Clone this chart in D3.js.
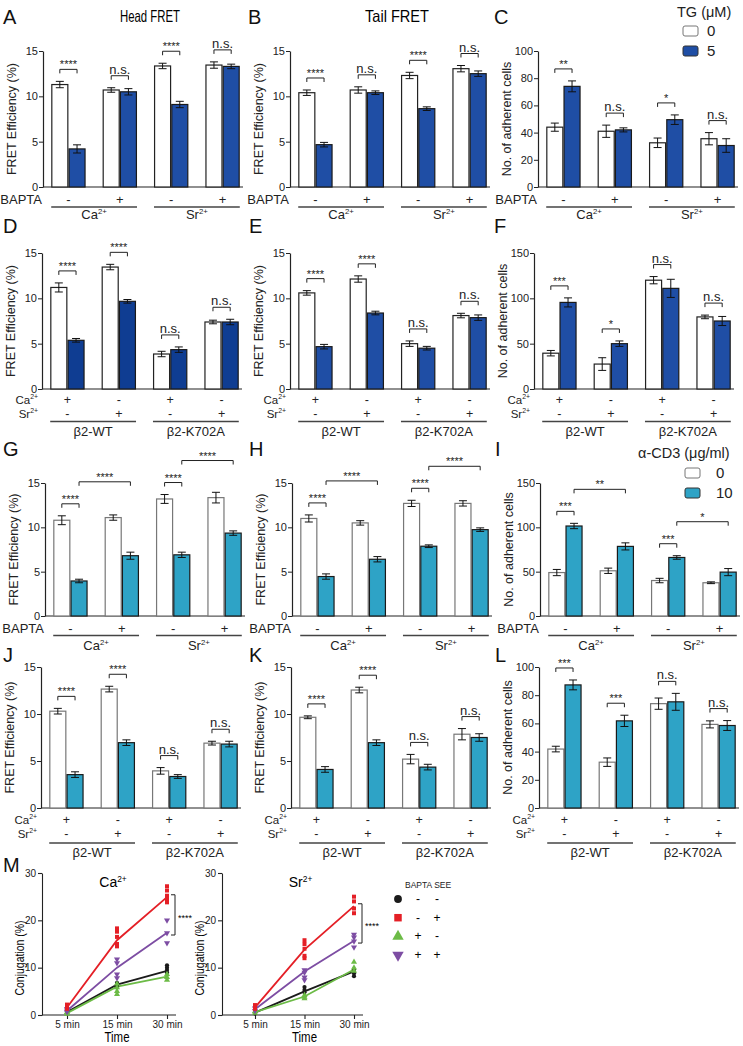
<!DOCTYPE html>
<html>
<head>
<meta charset="utf-8">
<script src="https://cdn.jsdelivr.net/npm/d3@7"></script>
<style>
  body { margin: 0; background: #fff; }
  svg { font-family: "Liberation Sans", Arial, Helvetica, sans-serif; }
</style>
</head>
<body>
<svg id="fig" width="743" height="1046"></svg>
<script>
const FONT = '"Liberation Sans", Arial, Helvetica, sans-serif';
const INK = "#222";

// shared categories / tick labels
const GROUPS = [0, 1, 2, 3];
const baptaSigns = ["-", "+", "-", "+"];
const caSigns = ["+", "-", "+", "-"];
const srSigns = ["-", "+", "-", "+"];
const ionGroups = ["Ca", "Sr"];
const mutGroups = ["\u03b22-WT", "\u03b22-K702A"];
const fretTicks = [0, 5, 10, 15];
const cellTicks100 = [0, 20, 40, 60, 80, 100];
const cellTicks150 = [0, 50, 100, 150];

// A - head FRET, TG
const aCtrl = [11.3, 10.7, 13.35, 13.45], aCtrlErr = [0.35, 0.25, 0.3, 0.35];
const aTG = [4.2, 10.5, 9.1, 13.3], aTGErr = [0.45, 0.35, 0.35, 0.25];
const aSig = ["****", "n.s.", "****", "n.s."];
// B - tail FRET, TG
const bCtrl = [10.4, 10.7, 12.3, 13.05], bCtrlErr = [0.3, 0.35, 0.35, 0.35];
const bTG = [4.67, 10.4, 8.64, 12.5], bTGErr = [0.25, 0.2, 0.2, 0.3];
const bSig = ["****", "n.s.", "****", "n.s."];
// C - adhesion, TG
const cCtrl = [44, 41, 32.5, 35.5], cCtrlErr = [3, 4.5, 3.5, 4.5];
const cTG = [74, 42, 49.5, 30.5], cTGErr = [4, 1.5, 3.5, 5];
const cSig = ["**", "n.s.", "*", "n.s."];
// D - head FRET, mutants, TG
const dCtrl = [11.2, 13.45, 3.86, 7.39], dCtrlErr = [0.5, 0.3, 0.3, 0.2];
const dTG = [5.37, 9.67, 4.34, 7.39], dTGErr = [0.2, 0.2, 0.3, 0.3];
const dSig = ["****", "****", "n.s.", "n.s."];
// E - tail FRET, mutants, TG
const eCtrl = [10.6, 12.13, 5.0, 8.1], eCtrlErr = [0.25, 0.35, 0.3, 0.25];
const eTG = [4.67, 8.38, 4.5, 7.87], eTGErr = [0.25, 0.2, 0.2, 0.3];
const eSig = ["****", "****", "n.s.", "n.s."];
// F - adhesion, mutants, TG
const fCtrl = [39.5, 27.5, 120, 79.5], fCtrlErr = [3, 7, 4, 2];
const fTG = [95.5, 50, 111, 75], fTGErr = [5, 3, 10, 5];
const fSig = ["***", "*", "n.s.", "n.s."];
// G - head FRET, aCD3
const gCtrl = [10.8, 11.1, 13.2, 13.35], gCtrlErr = [0.5, 0.3, 0.5, 0.6];
const gCD3 = [3.95, 6.8, 6.9, 9.35], gCD3Err = [0.2, 0.4, 0.3, 0.25];
const gSig = ["****", "", "****", ""];
const gLong = [["****", 0, 1], ["****", 2, 3]];
// H - tail FRET, aCD3
const hCtrl = [11.0, 10.5, 12.7, 12.7], hCtrlErr = [0.4, 0.25, 0.35, 0.3];
const hCD3 = [4.45, 6.4, 7.87, 9.74], hCD3Err = [0.3, 0.3, 0.15, 0.2];
const hSig = ["****", "", "****", ""];
const hLong = [["****", 0, 1], ["****", 2, 3]];
// I - adhesion, aCD3
const iCtrl = [49, 51, 40, 37.5], iCtrlErr = [3.5, 3, 2.5, 1];
const iCD3 = [101.5, 78.5, 66, 49.5], iCD3Err = [3, 4, 2, 4];
const iSig = ["***", "", "***", ""];
const iLong = [["**", 0, 1], ["*", 2, 3]];
// J - head FRET, mutants, aCD3
const jCtrl = [10.3, 12.65, 3.95, 6.9], jCtrlErr = [0.3, 0.3, 0.35, 0.2];
const jCD3 = [3.55, 6.95, 3.35, 6.8], jCD3Err = [0.3, 0.3, 0.2, 0.3];
const jSig = ["****", "****", "n.s.", "n.s."];
// K - tail FRET, mutants, aCD3
const kCtrl = [9.65, 12.55, 5.2, 7.85], kCtrlErr = [0.15, 0.3, 0.5, 0.6];
const kCD3 = [4.1, 6.95, 4.35, 7.5], kCD3Err = [0.3, 0.3, 0.3, 0.4];
const kSig = ["****", "****", "n.s.", "n.s."];
// L - adhesion, mutants, aCD3
const lCtrl = [41.8, 32.5, 74, 59.3], lCtrlErr = [2, 3, 4, 2.5];
const lCD3 = [87.3, 61.8, 75.3, 58.5], lCD3Err = [3.5, 4, 6, 3.5];
const lSig = ["***", "***", "n.s.", "n.s."];

// M - conjugation time course
const times = ["5 min", "15 min", "30 min"];
const conjTicks = [0, 10, 20, 30];
const caCtrl = [0.6, 6.4, 9.3], caSee = [1.6, 15.8, 24.9], caBapta = [0.4, 6.0, 8.1], caBaptaSee = [0.9, 10.0, 17.4];
const caCtrlPts = [[0.4, 0.7, 0.8], [6.8, 6.4, 6.0, 5.8], [10.5, 10.0, 9.5, 9.0]];
const caSeePts = [[1.3, 1.8, 2.2], [18.3, 17.6, 16.5, 15.0, 14.5], [27.2, 26.3, 25.2, 24.5, 23.8]];
const caBaptaPts = [[0.2, 0.5, 0.6], [6.6, 5.8, 5.0, 4.4], [8.6, 8.0, 7.4]];
const caBaptaSeePts = [[0.7, 1.0, 1.3], [11.8, 11.0, 8.6, 7.8], [20.0, 17.3, 15.2]];
const srCtrl = [0.5, 5.0, 9.2], srSee = [1.6, 13.8, 23.0], srBapta = [0.6, 3.9, 9.6], srBaptaSee = [1.2, 9.2, 15.7];
const srCtrlPts = [[0.3, 0.6], [5.9, 5.3, 4.8], [9.6, 8.8, 8.2]];
const srSeePts = [[1.3, 1.7, 2.1], [15.8, 15.0, 14.0, 12.5, 12.0], [25.0, 24.0, 22.5, 21.5]];
const srBaptaPts = [[0.4, 0.8], [4.2, 3.8, 3.5], [11.2, 10.0, 9.3]];
const srBaptaSeePts = [[0.9, 1.4], [9.5, 9.0, 8.0, 7.4], [17.0, 16.4, 15.6, 14.3]];
const legendBapta = ["-", "-", "+", "+"];
const legendSee = ["-", "+", "-", "+"];

const BLUE = "#1f4ea5", NAVY = "#0f3d92", TEAL = "#2ea3c6";

const svg = d3.select("#fig");

// rows: plot top/bottom and baselines of the label rows under them
const R1 = { top: 51, bottom: 187, sign: 203.5, line: 207, grp: 219 };
const R2 = { top: 253, bottom: 389, ca: 403.5, sr: 417.5, line: 421.5, grp: 436 };
const R3 = { top: 483, bottom: 616, sign: 632.5, line: 635.5, grp: 650 };
const R4 = { top: 667, bottom: 808, ca: 823.5, sr: 837.5, line: 843, grp: 857 };

function ionText(sel, base, size) {
  sel.append("tspan").text(base);
  sel.append("tspan").attr("font-size", size * 0.6).attr("dy", -size * 0.38).text("2+");
}

function bracket(g, x1, x2, yy, label) {
  if (!label) return;
  g.append("path")
    .attr("d", `M${x1},${yy + 4}V${yy}H${x2}V${yy + 4}`)
    .attr("fill", "none").attr("stroke", INK).attr("stroke-width", 1);
  const ns = label === "n.s.";
  g.append("text")
    .attr("x", (x1 + x2) / 2).attr("y", ns ? yy - 2 : yy - 1)
    .attr("text-anchor", "middle").attr("font-size", ns ? 13 : 11).attr("fill", INK)
    .text(label);
}

function barPanel(p) {
  const g = svg.append("g");
  const r = p.row;
  const y = d3.scaleLinear().domain([0, p.ymax]).range([r.bottom, r.top]);
  const x = d3.scaleBand().domain(GROUPS).range([p.ax, p.ax + 205]).paddingInner(0.33).paddingOuter(0.16);
  const bw = x.bandwidth() / 2;
  const cx = (i, k) => x(i) + k * bw + bw / 2;

  const ya = g.append("g").attr("transform", `translate(${p.ax},0)`)
    .call(d3.axisLeft(y).tickValues(p.ticks).tickSize(4).tickSizeOuter(0).tickPadding(1));
  ya.select(".domain").attr("stroke", INK).attr("stroke-width", 1.2);
  ya.selectAll(".tick line").attr("stroke", INK);
  ya.selectAll("text").attr("font-size", 11).attr("font-family", FONT).attr("fill", INK);
  g.append("line").attr("x1", p.ax).attr("x2", p.ax + 200).attr("y1", y(0)).attr("y2", y(0))
    .attr("stroke", INK).attr("stroke-width", 1.2);

  g.append("text")
    .attr("transform", `translate(${p.ax - 27},${(r.top + r.bottom) / 2}) rotate(-90)`)
    .attr("text-anchor", "middle").attr("font-size", 12.5).attr("fill", INK).text(p.ylabel);

  const bars = GROUPS.flatMap(i => [
    { i, k: 0, v: p.ctrl[i], e: p.ctrlErr[i] },
    { i, k: 1, v: p.trt[i], e: p.trtErr[i] }
  ]);
  g.selectAll("rect.bar").data(bars).join("rect").attr("class", "bar")
    .attr("x", d => x(d.i) + d.k * bw + 0.6)
    .attr("y", d => y(d.v))
    .attr("width", bw - 1.2)
    .attr("height", d => y(0) - y(d.v))
    .attr("fill", d => d.k ? p.fill : "#fff")
    .attr("stroke", d => d.k ? "#1a1a1a" : p.edge)
    .attr("stroke-width", 1.2);

  const eb = g.selectAll("g.eb").data(bars).join("g").attr("class", "eb")
    .attr("stroke", "#111").attr("stroke-width", 1);
  eb.append("line").attr("x1", d => cx(d.i, d.k)).attr("x2", d => cx(d.i, d.k))
    .attr("y1", d => y(d.v + d.e)).attr("y2", d => y(d.v - d.e));
  eb.append("line").attr("x1", d => cx(d.i, d.k) - 4).attr("x2", d => cx(d.i, d.k) + 4)
    .attr("y1", d => y(d.v + d.e)).attr("y2", d => y(d.v + d.e));
  eb.append("line").attr("x1", d => cx(d.i, d.k) - 4).attr("x2", d => cx(d.i, d.k) + 4)
    .attr("y1", d => y(d.v - d.e)).attr("y2", d => y(d.v - d.e));

  const shortY = GROUPS.map(i => Math.min(y(p.ctrl[i] + p.ctrlErr[i]), y(p.trt[i] + p.trtErr[i])) - 12);
  p.sig.forEach((s, i) => bracket(g, cx(i, 0), cx(i, 1), shortY[i], s));
  (p.long || []).forEach(([s, a, b]) => {
    const tops = d3.range(a + 1, b + 1).map(i => Math.min(y(p.ctrl[i] + p.ctrlErr[i]), y(p.trt[i] + p.trtErr[i])) - 12);
    const yy = Math.min(shortY[a] - 22, d3.min(tops) - 14);
    bracket(g, cx(a, 1), cx(b, 1), yy, s);
  });

  // labels under the x axis
  const mid = i => x(i) + bw;
  if (p.kind === "bapta") {
    g.append("text").attr("x", p.ax - 1).attr("y", r.sign).attr("text-anchor", "end")
      .attr("font-size", 13).attr("fill", INK).text("BAPTA");
    g.selectAll("text.sg").data(baptaSigns).join("text").attr("class", "sg")
      .attr("x", (d, i) => mid(i)).attr("y", r.sign).attr("text-anchor", "middle")
      .attr("font-size", 13).attr("fill", INK).text(d => d);
  } else {
    [["Ca", r.ca, caSigns], ["Sr", r.sr, srSigns]].forEach(([ion, yy, signs]) => {
      g.append("text").attr("x", p.ax - 4).attr("y", yy).attr("text-anchor", "end")
        .attr("font-size", 11.5).attr("fill", INK).call(ionText, ion, 11.5);
      g.selectAll(null).data(signs).join("text")
        .attr("x", (d, i) => mid(i)).attr("y", yy).attr("text-anchor", "middle")
        .attr("font-size", 12.5).attr("fill", INK).text(d => d);
    });
  }
  [0, 1].forEach(j => {
    const x1 = x(2 * j), x2 = x(2 * j + 1) + x.bandwidth();
    g.append("line").attr("x1", x1).attr("x2", x2).attr("y1", r.line).attr("y2", r.line)
      .attr("stroke", "#444").attr("stroke-width", 1.6);
    const t = g.append("text").attr("x", (x1 + x2) / 2).attr("y", r.grp).attr("text-anchor", "middle")
      .attr("font-size", 13).attr("fill", INK);
    if (p.kind === "bapta") ionText(t, ionGroups[j], 13);
    else t.text(mutGroups[j]);
  });
}

const FRET = "FRET Efficiency (%)", CELLS = "No. of adherent cells";
barPanel({ row: R1, ax: 43, ymax: 15, ticks: fretTicks, ctrl: aCtrl, ctrlErr: aCtrlErr, trt: aTG, trtErr: aTGErr, sig: aSig, fill: BLUE, edge: INK, ylabel: FRET, kind: "bapta" });
barPanel({ row: R1, ax: 290, ymax: 15, ticks: fretTicks, ctrl: bCtrl, ctrlErr: bCtrlErr, trt: bTG, trtErr: bTGErr, sig: bSig, fill: BLUE, edge: INK, ylabel: FRET, kind: "bapta" });
barPanel({ row: R1, ax: 538, ymax: 100, ticks: cellTicks100, ctrl: cCtrl, ctrlErr: cCtrlErr, trt: cTG, trtErr: cTGErr, sig: cSig, fill: BLUE, edge: INK, ylabel: CELLS, kind: "bapta" });
barPanel({ row: R2, ax: 42, ymax: 15, ticks: fretTicks, ctrl: dCtrl, ctrlErr: dCtrlErr, trt: dTG, trtErr: dTGErr, sig: dSig, fill: NAVY, edge: INK, ylabel: FRET, kind: "ion" });
barPanel({ row: R2, ax: 290, ymax: 15, ticks: fretTicks, ctrl: eCtrl, ctrlErr: eCtrlErr, trt: eTG, trtErr: eTGErr, sig: eSig, fill: BLUE, edge: INK, ylabel: FRET, kind: "ion" });
barPanel({ row: R2, ax: 534, ymax: 150, ticks: cellTicks150, ctrl: fCtrl, ctrlErr: fCtrlErr, trt: fTG, trtErr: fTGErr, sig: fSig, fill: BLUE, edge: INK, ylabel: CELLS, kind: "ion" });
barPanel({ row: R3, ax: 45, ymax: 15, ticks: fretTicks, ctrl: gCtrl, ctrlErr: gCtrlErr, trt: gCD3, trtErr: gCD3Err, sig: gSig, long: gLong, fill: TEAL, edge: "#777", ylabel: FRET, kind: "bapta" });
barPanel({ row: R3, ax: 292, ymax: 15, ticks: fretTicks, ctrl: hCtrl, ctrlErr: hCtrlErr, trt: hCD3, trtErr: hCD3Err, sig: hSig, long: hLong, fill: TEAL, edge: "#777", ylabel: FRET, kind: "bapta" });
barPanel({ row: R3, ax: 540, ymax: 150, ticks: cellTicks150, ctrl: iCtrl, ctrlErr: iCtrlErr, trt: iCD3, trtErr: iCD3Err, sig: iSig, long: iLong, fill: TEAL, edge: "#777", ylabel: CELLS, kind: "bapta" });
barPanel({ row: R4, ax: 41, ymax: 15, ticks: fretTicks, ctrl: jCtrl, ctrlErr: jCtrlErr, trt: jCD3, trtErr: jCD3Err, sig: jSig, fill: TEAL, edge: "#777", ylabel: FRET, kind: "ion" });
barPanel({ row: R4, ax: 291, ymax: 15, ticks: fretTicks, ctrl: kCtrl, ctrlErr: kCtrlErr, trt: kCD3, trtErr: kCD3Err, sig: kSig, fill: TEAL, edge: "#777", ylabel: FRET, kind: "ion" });
barPanel({ row: R4, ax: 539, ymax: 100, ticks: cellTicks100, ctrl: lCtrl, ctrlErr: lCtrlErr, trt: lCD3, trtErr: lCD3Err, sig: lSig, fill: TEAL, edge: "#777", ylabel: CELLS, kind: "ion" });

// panel letters and titles
[["A", 3, 24], ["B", 248, 24], ["C", 494, 24], ["D", 3, 233], ["E", 249, 233], ["F", 494, 233],
 ["G", 3, 456], ["H", 249, 456], ["I", 495, 456], ["J", 3, 662], ["K", 249, 662], ["L", 495, 662], ["M", 3, 872]]
  .forEach(([t, x, y]) => svg.append("text").attr("x", x).attr("y", y).attr("font-size", 20).attr("fill", "#111").text(t));
svg.append("text").attr("x", 150).attr("y", 22).attr("text-anchor", "middle").attr("font-size", 16.5)
  .attr("textLength", 60).attr("lengthAdjust", "spacingAndGlyphs").text("Head FRET");
svg.append("text").attr("x", 397).attr("y", 22).attr("text-anchor", "middle").attr("font-size", 16.5)
  .attr("textLength", 64).attr("lengthAdjust", "spacingAndGlyphs").text("Tail FRET");

// legends for the TG and anti-CD3 rows
function boxLegend(title, tx, ty, bx, by, labels, fill, lx) {
  svg.append("text").attr("x", tx).attr("y", ty).attr("font-size", 14.5).attr("fill", INK).text(title);
  labels.forEach((l, i) => {
    svg.append("rect").attr("x", bx).attr("y", by + i * 20).attr("width", 15).attr("height", 10).attr("rx", 2)
      .attr("fill", i ? fill : "#fff").attr("stroke", i ? "#333" : "#777").attr("stroke-width", 1);
    svg.append("text").attr("x", lx).attr("y", by + i * 20 + 10).attr("font-size", 15).attr("fill", INK).text(l);
  });
}
boxLegend("TG (\u03bcM)", 677, 17, 683, 26, ["0", "5"], BLUE, 707);
boxLegend("\u03b1-CD3 (\u03bcg/ml)", 638, 458, 685, 468, ["0", "10"], TEAL, 716);

// M panel
const mColors = ["#1b1b1b", "#e41f26", "#6cbb46", "#7d4da3"];
const mShapes = [d3.symbolCircle, d3.symbolSquare, d3.symbolTriangle, d3.symbolTriangle];
const mRot = [0, 0, 0, 180];
const mOrder = [0, 2, 3, 1];

function conjPanel(o) {
  const g = svg.append("g");
  const x = d3.scalePoint().domain(times).range([o.x0, o.x1]);
  const y = d3.scaleLinear().domain([0, 30]).range([1015, 873]);
  const ya = g.append("g").attr("transform", `translate(${o.ax},0)`)
    .call(d3.axisLeft(y).tickValues(conjTicks).tickSize(4).tickSizeOuter(0).tickPadding(2));
  const xa = g.append("g").attr("transform", `translate(0,${y(0)})`)
    .call(d3.axisBottom(x).tickSize(4).tickSizeOuter(0).tickPadding(2));
  xa.select(".domain").attr("d", `M${o.ax},0H${o.x1 + 9}`);
  [ya, xa].forEach(a => {
    a.selectAll(".domain,.tick line").attr("stroke", INK).attr("stroke-width", 1.1);
    a.selectAll("text").attr("font-size", 10).attr("font-family", FONT).attr("fill", INK);
  });
  g.append("text").attr("x", (o.x0 + o.x1) / 2).attr("y", 1042).attr("text-anchor", "middle")
    .attr("font-size", 14).attr("textLength", 25).attr("lengthAdjust", "spacingAndGlyphs").text("Time");
  g.append("text").attr("transform", `translate(${o.ax - 18},958) rotate(-90)`).attr("text-anchor", "middle")
    .attr("font-size", 12.5).attr("textLength", 75).attr("lengthAdjust", "spacingAndGlyphs").text("Conjugation (%)");
  g.append("text").attr("x", (o.x0 + o.x1) / 2 - 4).attr("y", 887).attr("text-anchor", "middle")
    .attr("font-size", 14).call(ionText, o.ion, 14);

  const line = d3.line().x((d, i) => x(times[i])).y(d => y(d));
  mOrder.forEach(s => {
    g.append("path").attr("d", line(o.means[s])).attr("fill", "none")
      .attr("stroke", mColors[s]).attr("stroke-width", 1.8);
  });
  mOrder.forEach(s => {
    const pts = o.pts[s].flatMap((arr, ti) => arr.map(v => ({ t: times[ti], v })));
    g.selectAll(null).data(pts).join("path")
      .attr("d", d3.symbol().type(mShapes[s]).size(s === 0 ? 14 : 16))
      .attr("transform", d => `translate(${x(d.t)},${y(d.v)}) rotate(${mRot[s]})`)
      .attr("fill", mColors[s]);
  });
  // significance between SEE and BAPTA+SEE at 30 min
  const bx = x("30 min") + 8;
  const yt = y(o.means[1][2] + 0.5), yb = y(o.means[3][2] - 0.5);
  g.append("path").attr("d", `M${bx - 4},${yt}H${bx}V${yb}H${bx - 4}`)
    .attr("fill", "none").attr("stroke", INK).attr("stroke-width", 1);
  g.append("text").attr("x", bx + 3).attr("y", (yt + yb) / 2 + 6).attr("font-size", 9).text("****");
}

conjPanel({ ax: 42, x0: 67, x1: 167, ion: "Ca", means: [caCtrl, caSee, caBapta, caBaptaSee], pts: [caCtrlPts, caSeePts, caBaptaPts, caBaptaSeePts] });
conjPanel({ ax: 222, x0: 255, x1: 354, ion: "Sr", means: [srCtrl, srSee, srBapta, srBaptaSee], pts: [srCtrlPts, srSeePts, srBaptaPts, srBaptaSeePts] });

// M legend
svg.append("text").attr("x", 405).attr("y", 888).attr("font-size", 8.5).attr("fill", INK).text("BAPTA SEE");
d3.range(4).forEach(s => {
  const yy = 899 + s * 18.7;
  svg.append("path").attr("d", d3.symbol().type(mShapes[s]).size(s === 0 ? 48 : 56))
    .attr("transform", `translate(398,${yy}) rotate(${mRot[s]})`).attr("fill", mColors[s]);
  svg.append("text").attr("x", 418).attr("y", yy + 4).attr("text-anchor", "middle").attr("font-size", 12).text(legendBapta[s]);
  svg.append("text").attr("x", 437).attr("y", yy + 4).attr("text-anchor", "middle").attr("font-size", 12).text(legendSee[s]);
});
</script>
</body>
</html>
